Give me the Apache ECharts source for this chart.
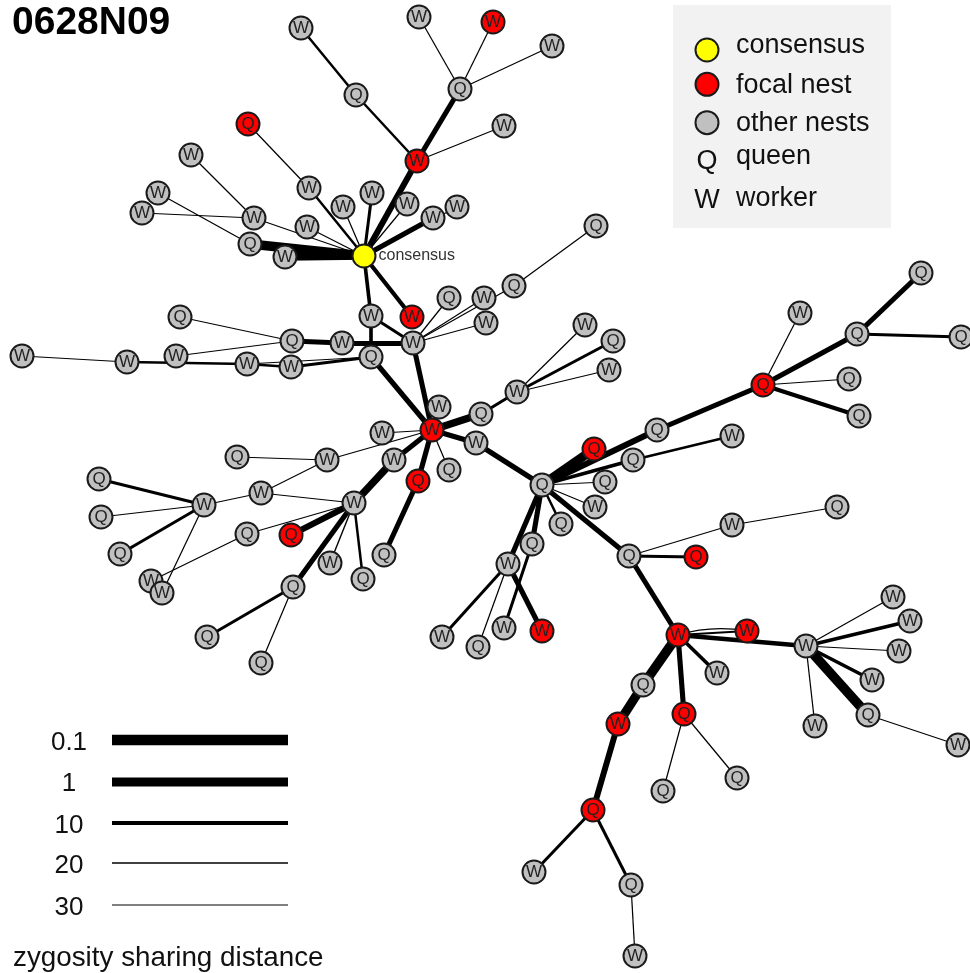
<!DOCTYPE html>
<html><head><meta charset="utf-8">
<script src="https://cdn.jsdelivr.net/npm/echarts@6/dist/echarts.min.js"></script>
<style>html,body{margin:0;padding:0;background:#fff}#c{width:970px;height:973px}</style>
</head><body><div id="c"></div>
<script>
const chartTitle = '0628N09';
// nodes: [role, nest, x, y]  role: C consensus, Q queen, W worker
const nodes = [
 ['C','consensus',364,256],
 ['W','other',301,28],['Q','other',356,95],['W','other',419,17],['W','focal',493,22],['W','other',552,46],
 ['Q','other',460,89],['W','other',504,126],['W','focal',417,161],
 ['Q','focal',248,124],['W','other',309,188],['W','other',191,155],['W','other',158,193],['W','other',142,213],
 ['W','other',254,218],['W','other',307,227],['Q','other',250,244],['W','other',285,257],['W','other',343,207],
 ['W','other',372,193],['W','other',407,204],['W','other',433,218],['W','other',457,207],['Q','other',596,226],
 ['Q','other',514,286],
 ['W','other',371,316],['W','focal',412,317],['W','other',413,343],['W','other',342,343],['Q','other',371,357],
 ['Q','other',292,341],['Q','other',180,317],['W','other',176,356],['W','other',22,356],['W','other',127,362],
 ['W','other',247,364],['W','other',291,367],['Q','other',449,298],['W','other',484,298],['W','other',486,323],
 ['W','focal',432,430],['W','other',439,407],['Q','other',481,414],['W','other',517,392],['W','other',585,325],
 ['Q','other',613,341],['W','other',609,370],['W','other',382,433],['W','other',327,460],['Q','other',237,457],
 ['W','other',261,493],['W','other',204,505],['Q','other',99,479],['Q','other',101,517],['Q','other',120,554],
 ['W','other',151,581],['W','other',162,593],['Q','other',247,534],['Q','focal',291,535],['W','other',354,503],
 ['W','other',394,460],['Q','other',449,470],['Q','focal',418,481],['Q','other',384,555],['W','other',330,563],
 ['Q','other',363,579],['Q','other',293,587],['Q','other',207,637],['Q','other',261,663],['W','other',476,443],
 ['Q','other',542,485],['Q','focal',594,449],['Q','other',657,430],['Q','other',633,460],['W','other',732,436],
 ['Q','other',605,482],['W','other',595,507],['Q','other',561,524],['Q','other',532,544],['W','other',508,564],
 ['W','other',442,637],['Q','other',478,647],['W','focal',542,631],['W','other',504,628],['Q','other',629,556],
 ['Q','focal',763,385],['W','other',800,313],['Q','other',857,334],['Q','other',921,273],['Q','other',961,337],
 ['Q','other',849,379],['Q','other',859,416],['W','other',732,525],['Q','other',837,507],['Q','focal',696,557],
 ['W','focal',678,635],['W','focal',747,631],['W','other',806,646],['W','other',717,673],['Q','other',643,685],
 ['Q','focal',684,714],['W','focal',618,724],['Q','focal',593,810],['W','other',534,872],['Q','other',631,885],
 ['W','other',635,956],['Q','other',663,791],['Q','other',737,778],['W','other',893,597],['W','other',910,621],
 ['W','other',899,651],['W','other',872,680],['Q','other',868,715],['W','other',815,726],['W','other',958,745]
];
// links: [source, target, zygosity sharing distance]
const links = [
 [1,2,15],[2,8,15],[3,6,25],[4,6,25],[5,6,25],[6,8,6],[7,8,25],[8,0,4],
 [9,10,25],[10,0,15],[11,14,25],[12,16,25],[13,14,25],[14,0,25],[15,0,25],[16,0,0.5],[17,0,2],
 [18,0,25],[19,0,13],[20,0,25],[21,0,6],[22,0,25],[23,24,25],
 [0,25,11],[0,26,9],[25,29,11],[25,27,13],[30,28,6],[28,27,6],[31,30,25],[32,30,25],[33,34,25],
 [34,35,15],[35,36,15],[36,29,13],[35,29,25],[27,37,25],[27,38,25],[27,39,25],[27,24,25],
 [29,40,6],[27,40,6],
 [41,40,25],[42,40,2],[42,43,13],[43,44,25],[43,45,13],[43,46,25],[47,40,25],[48,40,25],[49,48,25],
 [50,48,25],[50,51,25],[50,59,25],[60,40,6],[59,60,2],[61,40,25],[62,40,6],[62,63,6],[69,40,6],[69,70,6],
 [52,51,13],[53,51,25],[54,51,13],[56,51,25],[55,57,25],[57,59,25],[58,59,4],[66,59,6],[66,67,13],
 [66,68,25],[64,59,20],[65,59,15],
 [71,70,1],[72,70,4],[72,85,6],[73,70,11],[73,74,15],[75,70,25],[76,70,25],[77,70,15],[78,70,6],
 [79,70,6],[84,70,6],[79,80,13],[79,81,25],[79,82,6],[83,78,13],
 [85,86,25],[85,87,6],[87,88,6],[87,89,13],[85,90,25],[85,91,9],[84,92,25],[92,93,25],[84,94,13],
 [84,95,6],[95,96,18],[95,96,20],[95,97,8],[95,98,11],[95,99,0.5],[95,100,6],[99,101,1],[101,102,4],[102,103,13],
 [102,104,13],[104,105,25],[100,106,25],[100,107,25],[97,108,25],[97,109,11],[97,110,25],[97,111,11],
 [97,112,0.5],[97,113,25],[112,114,25]
];
const legendItems = ['consensus','focal nest','other nests'];
const legendRoles = [['Q','queen'],['W','worker']];
const scaleDistances = [0.1, 1, 10, 20, 30];
const scaleTitle = 'zygosity sharing distance';

function lineWidth(d){
  const pts=[[0.1,10.5],[1,9],[10,4],[20,1.4],[30,1.1]];
  const l=Math.log10(d);
  if(l<=Math.log10(pts[0][0])) return pts[0][1];
  for(let i=0;i<pts.length-1;i++){
    const a=Math.log10(pts[i][0]), b=Math.log10(pts[i+1][0]);
    if(l<=b) return pts[i][1]+(pts[i+1][1]-pts[i][1])*(l-a)/(b-a);
  }
  return pts[pts.length-1][1];
}
const nestColor = {consensus:'#ffff00', focal:'#ff0000', other:'#c0c0c0'};
const FONT = 'Liberation Sans, Arial, sans-serif';

const chart = echarts.init(document.getElementById('c'), null, {renderer:'canvas'});

const graphData = nodes.map((n,i)=>({
  name:'n'+i,
  value:[n[2], n[3]],
  symbolSize: 23,
  itemStyle:{color:nestColor[n[1]], borderColor:'#1a1a1a', borderWidth:2},
  label: n[0]==='C'
    ? {show:true, position:'right', distance:2, formatter:'consensus', fontSize:16, color:'#333', fontFamily:FONT}
    : {show:true, position:'inside', formatter:n[0], fontSize:17, color:'#222', fontFamily:FONT}
}));
const seen = {};
const graphLinks = links.map(l=>{
  const k=l[0]+'-'+l[1];
  const dup = seen[k]; seen[k]=true;
  return {source:l[0], target:l[1], lineStyle:{width:lineWidth(l[2]), curveness: dup?0.12:0}};
});

const graphics = [];
graphics.push({type:'rect', shape:{x:673,y:5,width:218,height:223}, style:{fill:'#f2f2f2'}, z:0});
const legCy=[50,84.3,122.7], legTy=[45.6,85.6,124];
legendItems.forEach((t,i)=>{
  const key = ['consensus','focal','other'][i];
  graphics.push({type:'circle', shape:{cx:707,cy:legCy[i],r:11.5}, style:{fill:nestColor[key], stroke:'#1a1a1a', lineWidth:2}, z:1});
  graphics.push({type:'text', x:736, y:legTy[i], style:{text:t, font:'27px '+FONT, fill:'#111', textVerticalAlign:'middle', textAlign:'left'}, z:1});
});
const roleSy=[161.7,200.6], roleTy=[156.3,199];
legendRoles.forEach((r,i)=>{
  graphics.push({type:'text', x:707, y:roleSy[i], style:{text:r[0], font:'27px '+FONT, fill:'#111', textVerticalAlign:'middle', textAlign:'center'}, z:1});
  graphics.push({type:'text', x:736, y:roleTy[i], style:{text:r[1], font:'27px '+FONT, fill:'#111', textVerticalAlign:'middle', textAlign:'left'}, z:1});
});
const scaleLy=[740,782,823,863,905], scaleTyy=[742.7,783.7,826,866,907.7];
scaleDistances.forEach((d,i)=>{
  graphics.push({type:'line', shape:{x1:112,y1:scaleLy[i],x2:288,y2:scaleLy[i]}, style:{stroke:'#000', lineWidth:lineWidth(d)}, z:1});
  graphics.push({type:'text', x:69, y:scaleTyy[i], style:{text:String(d), font:'26px '+FONT, fill:'#111', textVerticalAlign:'middle', textAlign:'center'}, z:1});
});
graphics.push({type:'text', x:13, y:958, style:{text:scaleTitle, font:'27.8px '+FONT, fill:'#111', textVerticalAlign:'middle', textAlign:'left'}, z:1});
graphics.push({type:'text', x:12, y:23, style:{text:chartTitle, font:'bold 39px '+FONT, fill:'#000', textVerticalAlign:'middle', textAlign:'left'}, z:1});

chart.setOption({
  animation:false,
  backgroundColor:'#ffffff',
  grid:{left:0,right:0,top:0,bottom:0},
  xAxis:{type:'value', min:0, max:970, show:false},
  yAxis:{type:'value', min:0, max:973, inverse:true, show:false},
  graphic:graphics,
  series:[{
    type:'graph',
    coordinateSystem:'cartesian2d',
    symbol:'circle',
    data:graphData,
    links:graphLinks,
    lineStyle:{color:'#000', opacity:1, curveness:0},
    emphasis:{disabled:true},
    z:2
  }]
});
</script></body></html>
